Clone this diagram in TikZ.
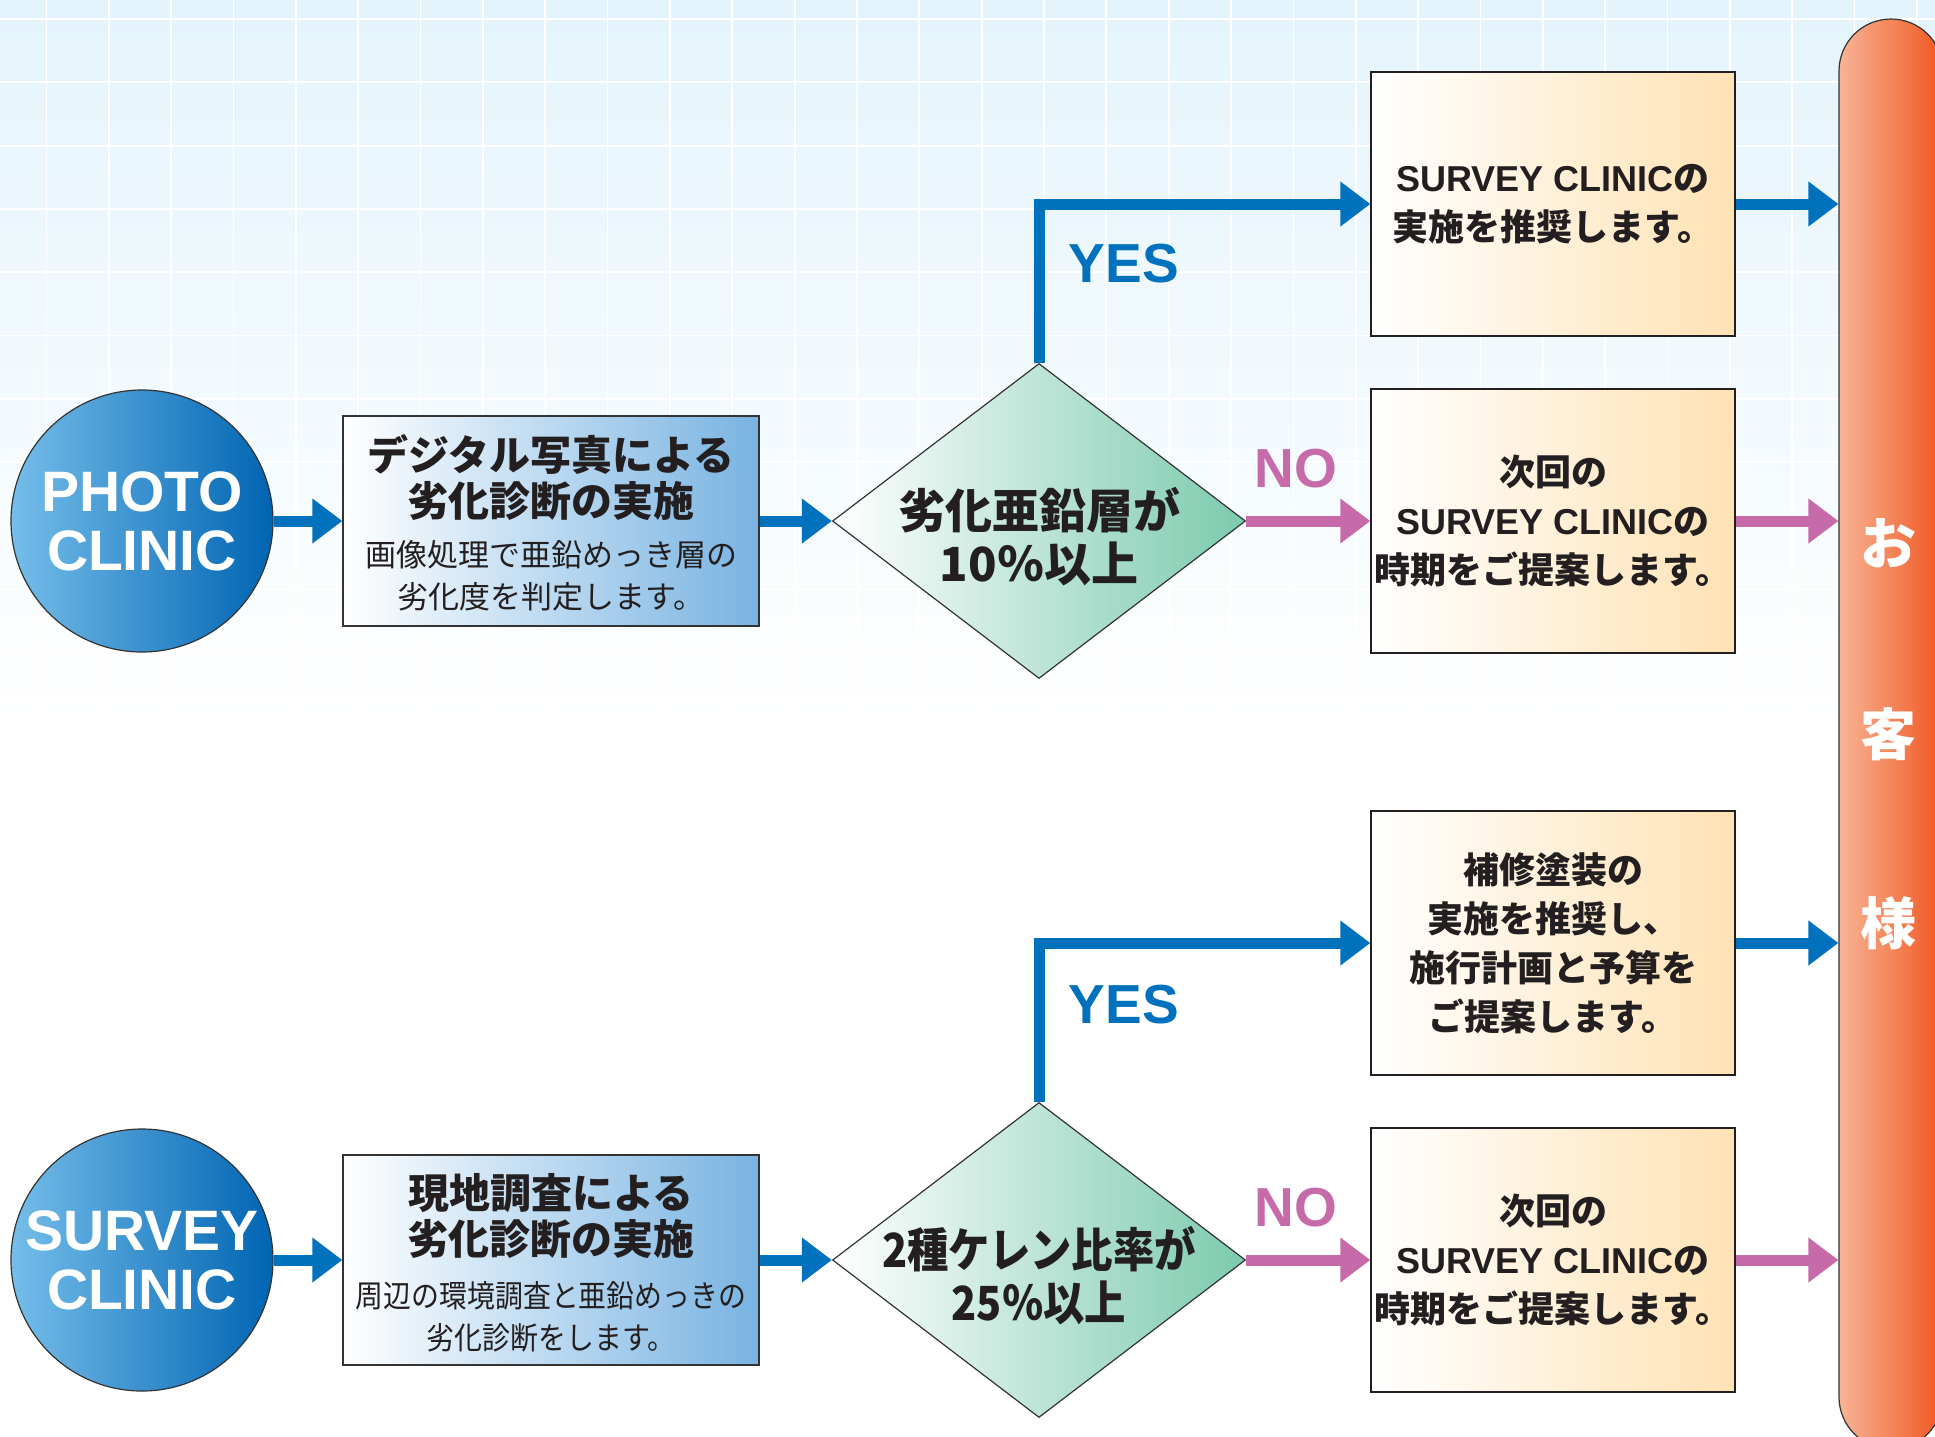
\documentclass[tikz,border=0pt]{standalone}
\usepackage{fontspec}
\setmainfont{Liberation Sans}
\newfontfamily\jp{Noto Sans CJK JP}
\newfontfamily\jpn[FakeStretch=0.88]{Noto Sans CJK JP}
\newfontfamily\jpm[FakeStretch=0.9]{Noto Sans CJK JP}
\usetikzlibrary{shapes.geometric,arrows.meta}
\definecolor{arblue}{HTML}{0071BC}
\definecolor{arpink}{HTML}{C66AAA}
\definecolor{bgblue}{HTML}{E4F4FC}
\definecolor{cirL}{HTML}{75BEEA}
\definecolor{cirR}{HTML}{0064B2}
\definecolor{boxR}{HTML}{78B3E2}
\definecolor{diaR}{HTML}{7CCAAE}
\definecolor{peach}{HTML}{FFE2B4}
\definecolor{orL}{HTML}{F8B496}
\definecolor{orR}{HTML}{F0561F}
\definecolor{edge}{HTML}{333333}
\definecolor{ink}{HTML}{231F20}
\begin{document}
\begin{tikzpicture}[x=1pt,y=-1pt,
  cir/.style={circle,draw=edge,line width=1.2pt,minimum size=262pt,inner sep=0pt,left color=cirL,right color=cirR},
  cirtxt/.style={white,align=center,font=\bfseries\fontsize{57}{59}\selectfont,inner sep=0pt},
  lbox/.style={rectangle,draw=edge,line width=1.3pt,minimum width=416pt,minimum height=210pt,inner sep=0pt,left color=white,right color=boxR},
  ttl/.style={ink,align=center,font=\jp\bfseries\fontsize{41}{46}\selectfont,inner sep=0pt},
  subt/.style={ink,align=center,font=\jp\fontsize{31}{42}\selectfont,inner sep=0pt},
  dia/.style={diamond,draw=edge,line width=1.2pt,minimum width=413pt,minimum height=315pt,inner sep=0pt,shape aspect=1.31,left color=white,right color=diaR},
  dtxt/.style={ink,align=center,font=\jp\bfseries\fontsize{47}{53}\selectfont,inner sep=0pt},
  rbox/.style={rectangle,draw=edge,line width=1.3pt,minimum width=364pt,minimum height=264pt,inner sep=0pt,left color=white,right color=peach,ink,align=center,font=\bfseries\fontsize{36}{49}\selectfont},
  bar/.style={rectangle,draw=edge,line width=1.2pt,minimum width=104pt,minimum height=1430pt,rounded corners=52pt,inner sep=0pt,left color=orL,right color=orR},
  bartxt/.style={white,font=\jp\bfseries\fontsize{56}{56}\selectfont,inner sep=0pt},
  barrow/.style={draw=arblue,line width=11pt,line join=miter,-{Triangle[length=30pt,width=43pt]}},
  parrow/.style={draw=arpink,line width=11pt,-{Triangle[length=30pt,width=43pt]}},
  yeslab/.style={arblue,font=\bfseries\fontsize{55}{55}\selectfont,inner sep=0pt},
  nolab/.style={arpink,font=\bfseries\fontsize{55}{55}\selectfont,inner sep=0pt}
]
\useasboundingbox (0,0) rectangle (1935,1436);
\fill[white] (0,0) rectangle (1935,1436);
\shade[top color=bgblue,bottom color=white] (0,0) rectangle (1935,730);
\foreach \i in {0,...,30} \draw[white,line width=1.8pt] ({46.4+62.35*\i},0) -- ({46.4+62.35*\i},730);
\foreach \j in {0,...,11} \draw[white,line width=1.8pt] (0,{19+63.3*\j}) -- (1935,{19+63.3*\j});

% customer bar
\node[bar] (cu) at (1891,734) {};
\node[bartxt] (t1) at (1888,543) {お};
\node[bartxt] (t2) at (1888,734) {客};
\node[bartxt] (t3) at (1888,923) {様};

% upper flow
\node[cir] (pc) at (142,521) {};
\node[cirtxt] (pct) at (pc) {PHOTO\\CLINIC};
\node[lbox] (b1) at (551,521) {};
\node[ttl] (b1t) at (551,477) {デジタル写真による\\劣化診断の実施};
\node[subt] (b1s) at (551,576) {画像処理で亜鉛めっき層の\\劣化度を判定します。};
\node[dia] (d1) at (1039,521) {};
\node[dtxt] (d1t) at (1039,537) {劣化亜鉛層が\\10％以上};
\node[rbox] (ra) at (1553,204) {SURVEY CLINIC{\jp の}\\{\jp 実施を推奨します。}};
\node[rbox] (rb) at (1553,521) {{\jp 次回の}\\SURVEY CLINIC{\jp の}\\{\jp 時期をご提案します。}};

\draw[barrow] (pc) -- (b1);
\draw[barrow] (b1) -- (d1);
\draw[barrow] (d1.north) |- (ra.west);
\draw[parrow] (d1.east) -- (rb.west);
\draw[barrow] (ra.east) -- (ra.east -| cu.west);
\draw[parrow] (rb.east) -- (rb.east -| cu.west);
\node[yeslab] (y1) at (1124,264) {YES};
\node[nolab] (n1) at (1296,469) {NO};

% lower flow
\node[cir] (sc) at (142,1260) {};
\node[cirtxt] (sct) at (sc) {SURVEY\\CLINIC};
\node[lbox] (b2) at (551,1260) {};
\node[ttl] (b2t) at (551,1216) {現地調査による\\劣化診断の実施};
\node[subt,font=\jpm\fontsize{31}{42}\selectfont] (b2s) at (551,1317) {周辺の環境調査と亜鉛めっきの\\劣化診断をします。};
\node[dia] (d2) at (1039,1260) {};
\node[dtxt,font=\jpn\bfseries\fontsize{47}{53}\selectfont] (d2t) at (1039,1276) {2種ケレン比率が\\25％以上};
\node[rbox] (rc) at (1553,943) {{\jp 補修塗装の}\\{\jp 実施を推奨し、}\\{\jp 施行計画と予算を}\\{\jp ご提案します。}};
\node[rbox] (rd) at (1553,1260) {{\jp 次回の}\\SURVEY CLINIC{\jp の}\\{\jp 時期をご提案します。}};

\draw[barrow] (sc) -- (b2);
\draw[barrow] (b2) -- (d2);
\draw[barrow] (d2.north) |- (rc.west);
\draw[parrow] (d2.east) -- (rd.west);
\draw[barrow] (rc.east) -- (rc.east -| cu.west);
\draw[parrow] (rd.east) -- (rd.east -| cu.west);
\node[yeslab] (y2) at (1124,1005) {YES};
\node[nolab] (n2) at (1296,1208) {NO};
\end{tikzpicture}
\end{document}
